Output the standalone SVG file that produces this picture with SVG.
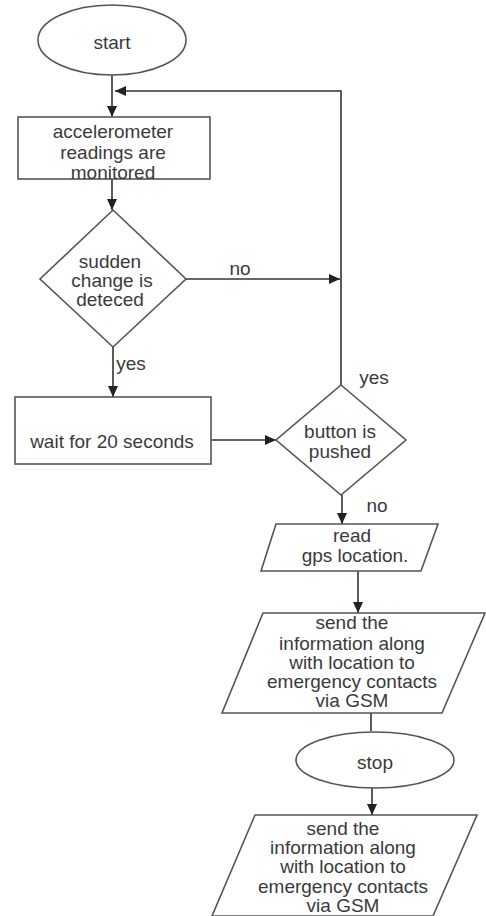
<svg xmlns="http://www.w3.org/2000/svg" width="486" height="916" viewBox="0 0 486 916">
<defs>
<marker id="ah" markerWidth="12" markerHeight="10" refX="11" refY="5" orient="auto" markerUnits="userSpaceOnUse">
<path d="M0,0 L11,5 L0,10 Z" fill="#222"/>
</marker>
<style>
.s{fill:#fff;stroke:#555;stroke-width:1.6}
.c{fill:none;stroke:#333;stroke-width:1.6}
.t{font-family:"Liberation Sans",Arial,sans-serif;font-size:19px;fill:#3a3a3a;text-anchor:middle;dominant-baseline:central}
</style>
</defs>
<rect width="486" height="916" fill="#fff"/>
<g id="connectors">
<path class="c" d="M112,75 V117" marker-end="url(#ah)"/>
<path class="c" d="M341,385 V91 H115" marker-end="url(#ah)"/>
<path class="c" d="M112,179 V210" marker-end="url(#ah)"/>
<path class="c" d="M186,279 H340" marker-end="url(#ah)"/>
<path class="c" d="M113,347 V397" marker-end="url(#ah)"/>
<path class="c" d="M211,440 H276" marker-end="url(#ah)"/>
<path class="c" d="M342,495 V524" marker-end="url(#ah)"/>
<path class="c" d="M358,571 V613" marker-end="url(#ah)"/>
<path class="c" d="M371,713 V731"/>
<path class="c" d="M372,788 V815" marker-end="url(#ah)"/>
<text class="t" x="240" y="268">no</text>
<text class="t" x="131" y="363">yes</text>
<text class="t" x="374" y="377">yes</text>
<text class="t" x="377" y="505">no</text>
</g>
<g id="start">
<ellipse class="s" cx="112" cy="40" rx="74" ry="35"/>
<text class="t" x="112" y="42">start</text>
</g>
<g id="monitor">
<rect class="s" x="18" y="117" width="192" height="62"/>
<text class="t" x="113" y="131">accelerometer</text>
<text class="t" x="113" y="152">readings are</text>
<text class="t" x="113" y="172">monitored</text>
</g>
<g id="sudden">
<polygon class="s" points="113,210 186,279 113,347 40,279"/>
<text class="t" x="110" y="261">sudden</text>
<text class="t" x="112" y="280">change is</text>
<text class="t" x="110" y="299">deteced</text>
</g>
<g id="wait">
<rect class="s" x="15" y="397" width="196" height="67"/>
<text class="t" x="112" y="441">wait for 20 seconds</text>
</g>
<g id="button">
<polygon class="s" points="341,385 406,440 341,495 276,440"/>
<text class="t" x="340" y="431">button is</text>
<text class="t" x="340" y="451">pushed</text>
</g>
<g id="gps">
<polygon class="s" points="276,524 438,524 421,571 261,571"/>
<text class="t" x="352" y="535">read</text>
<text class="t" x="355" y="555">gps location.</text>
</g>
<g id="send1">
<polygon class="s" points="263,613 485,613 442,713 222,713"/>
<text class="t" x="352" y="622">send the</text>
<text class="t" x="352" y="643">information along</text>
<text class="t" x="352" y="662">with location to</text>
<text class="t" x="352" y="681">emergency contacts</text>
<text class="t" x="352" y="700">via GSM</text>
</g>
<g id="stop">
<ellipse class="s" cx="375" cy="760" rx="79" ry="28"/>
<text class="t" x="375" y="762">stop</text>
</g>
<g id="send2">
<polygon class="s" points="255,815 477,815 433,916 212,916"/>
<text class="t" x="343" y="828">send the</text>
<text class="t" x="343" y="847">information along</text>
<text class="t" x="343" y="866">with location to</text>
<text class="t" x="343" y="886">emergency contacts</text>
<text class="t" x="343" y="905">via GSM</text>
</g>
</svg>
